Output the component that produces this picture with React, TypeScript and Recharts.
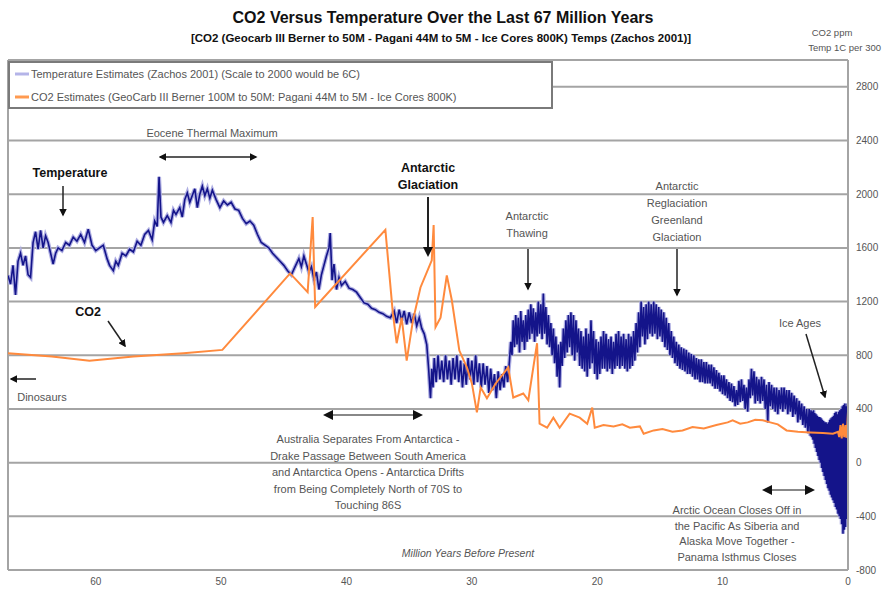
import { LineChart, Line, XAxis, YAxis, CartesianGrid, ReferenceLine } from "recharts";

// [million years before present, temperature scaled to ppm axis (1C = 300)]
const tempPaleocene: [number, number][] = [
  [67.0, 1395], [66.8, 1330], [66.6, 1470], [66.4, 1250], [66.2, 1500], [66.0, 1560], [65.8, 1470],
  [65.6, 1540], [65.4, 1400], [65.2, 1380], [65.0, 1640], [64.8, 1720], [64.6, 1590], [64.4, 1730],
  [64.2, 1600], [64.0, 1690], [63.8, 1640], [63.6, 1560], [63.4, 1480], [63.2, 1560], [63.0, 1600],
  [62.7, 1580], [62.4, 1640], [62.1, 1620], [61.8, 1680], [61.5, 1650], [61.2, 1700], [60.9, 1640],
  [60.6, 1740], [60.3, 1620], [60.0, 1580], [59.7, 1600], [59.4, 1620], [59.1, 1520], [58.9, 1470],
  [58.6, 1430], [58.4, 1500], [58.2, 1470], [57.9, 1560], [57.6, 1540], [57.3, 1590], [57.0, 1570],
  [56.7, 1650], [56.4, 1620], [56.1, 1700],
];

const tempEocene: [number, number][] = [
  [55.8, 1730], [55.5, 1660], [55.3, 1800], [55.1, 1760], [54.95, 2130], [54.8, 1830], [54.6, 1790],
  [54.3, 1840], [54.0, 1790], [53.8, 1880], [53.6, 1850], [53.3, 1900], [53.1, 1830], [52.9, 1960],
  [52.7, 2010], [52.5, 1940], [52.3, 1990], [52.1, 2040], [51.9, 1900], [51.7, 2000], [51.5, 2060],
  [51.3, 1990], [51.1, 2040], [50.9, 1970], [50.7, 2030], [50.4, 1960], [50.1, 1900], [49.8, 1950],
  [49.5, 1920], [49.2, 1940], [48.9, 1890], [48.6, 1880], [48.3, 1820], [48.0, 1780], [47.7, 1800],
  [47.4, 1770], [47.1, 1700], [46.8, 1640], [46.5, 1620], [46.2, 1600], [45.9, 1560], [45.6, 1530],
  [45.3, 1500], [45.0, 1470], [44.7, 1430], [44.4, 1400], [44.1, 1460], [43.8, 1520], [43.6, 1460],
  [43.4, 1540], [43.2, 1480], [43.0, 1420], [42.8, 1460], [42.6, 1370], [42.4, 1420], [42.2, 1290],
  [42.0, 1400], [41.8, 1470], [41.6, 1540], [41.4, 1600], [41.3, 1710], [41.15, 1360], [41.0, 1480],
  [40.8, 1290], [40.6, 1380], [40.4, 1320], [40.1, 1350], [39.8, 1300], [39.5, 1290], [39.2, 1270],
  [38.9, 1230], [38.6, 1190], [38.3, 1180], [38.0, 1150], [37.7, 1140], [37.4, 1120], [37.1, 1110],
  [36.8, 1090], [36.5, 1080], [36.2, 1130], [36.0, 1040], [35.8, 1140], [35.6, 1060], [35.4, 1130],
  [35.2, 1030], [35.0, 1120], [34.8, 1040], [34.6, 1110], [34.4, 1020], [34.2, 1080], [34.0, 1000],
];

const tempOligocene: [number, number][] = [
  [33.8, 960], [33.6, 880], [33.45, 700], [33.3, 480], [33.2, 700], [33.1, 560], [33.0, 780],
  [32.85, 600], [32.7, 800], [32.55, 620], [32.4, 760], [32.25, 600], [32.1, 800], [31.95, 620],
  [31.8, 760], [31.65, 580], [31.5, 780], [31.35, 620], [31.2, 800], [31.05, 600], [30.9, 760],
  [30.75, 560], [30.6, 740], [30.45, 580], [30.3, 780], [30.15, 620], [30.0, 760], [29.85, 580],
  [29.7, 800], [29.55, 600], [29.4, 740], [29.25, 560], [29.1, 740], [28.95, 580], [28.8, 720],
  [28.65, 520], [28.5, 700], [28.35, 540], [28.2, 660], [28.05, 480], [27.9, 680], [27.75, 540],
  [27.6, 660], [27.45, 560], [27.3, 720], [27.15, 600], [27.0, 760], [26.9, 900], [26.8, 800],
  [26.7, 1060], [26.6, 860], [26.5, 1100], [26.4, 880], [26.3, 1080], [26.2, 820], [26.1, 1130],
  [26.0, 900], [25.9, 1060], [25.8, 840], [25.7, 1100], [25.6, 900], [25.5, 1140], [25.4, 920],
  [25.3, 1180], [25.2, 960], [25.1, 1150], [25.0, 900], [24.9, 1120], [24.8, 940], [24.7, 1200],
  [24.6, 960], [24.5, 1180], [24.4, 920], [24.3, 1260], [24.2, 960], [24.1, 1160], [24.0, 880],
  [23.9, 1100], [23.8, 860], [23.7, 1040], [23.6, 800], [23.5, 1000], [23.4, 740], [23.3, 940],
  [23.2, 640],
];

const tempMiocene: [number, number][] = [
  [23.1, 880], [23.0, 560], [22.9, 900], [22.8, 720], [22.7, 1000], [22.6, 780], [22.5, 1060],
  [22.4, 820], [22.3, 1100], [22.2, 860], [22.1, 1120], [22.0, 800], [21.9, 1100], [21.8, 760],
  [21.7, 1060], [21.6, 820], [21.5, 1000], [21.4, 720], [21.3, 980], [21.2, 700], [21.1, 940],
  [21.0, 680], [20.9, 1000], [20.8, 640], [20.7, 960], [20.6, 700], [20.5, 1060], [20.4, 740],
  [20.3, 980], [20.2, 660], [20.1, 920], [20.0, 620], [19.9, 900], [19.8, 660], [19.7, 940],
  [19.6, 700], [19.5, 980], [19.4, 700], [19.3, 960], [19.2, 680], [19.1, 920], [19.0, 700],
  [18.9, 940], [18.8, 660], [18.7, 900], [18.6, 700], [18.5, 960], [18.4, 720], [18.3, 980],
  [18.2, 700], [18.1, 940], [18.0, 720], [17.9, 960], [17.8, 700], [17.7, 920], [17.6, 680],
  [17.5, 960], [17.4, 700], [17.3, 940], [17.2, 720], [17.1, 980], [17.0, 760], [16.9, 1040],
  [16.8, 820], [16.7, 1120], [16.6, 860], [16.5, 1200], [16.4, 940], [16.3, 1160], [16.2, 880],
  [16.1, 1180], [16.0, 920], [15.9, 1200], [15.8, 960], [15.7, 1180], [15.6, 940], [15.5, 1200],
  [15.4, 960], [15.3, 1180], [15.2, 920], [15.1, 1160], [15.0, 940], [14.9, 1140], [14.8, 900],
  [14.7, 1120], [14.6, 860], [14.5, 1080], [14.4, 840], [14.3, 1040], [14.2, 800], [14.1, 980],
  [14.0, 780], [13.9, 940], [13.8, 740], [13.7, 900], [13.6, 720], [13.5, 880], [13.4, 700],
  [13.3, 860], [13.2, 690], [13.1, 850], [13.0, 680], [12.9, 840], [12.8, 660], [12.7, 820],
  [12.6, 660], [12.5, 810], [12.4, 640], [12.3, 800], [12.2, 620], [12.1, 780], [12.0, 620],
  [11.9, 770], [11.8, 600], [11.7, 770], [11.6, 600], [11.5, 750], [11.4, 590], [11.3, 750],
  [11.2, 590], [11.1, 730], [11.0, 590], [10.9, 730], [10.8, 570], [10.7, 710], [10.6, 550],
  [10.5, 690], [10.4, 550], [10.3, 670], [10.2, 530], [10.1, 650], [10.0, 510], [9.9, 650],
  [9.8, 500], [9.7, 620], [9.6, 480], [9.5, 600], [9.4, 460], [9.3, 590], [9.2, 450],
  [9.1, 570], [9.0, 420], [8.9, 540], [8.8, 430], [8.7, 610], [8.6, 450], [8.5, 620],
  [8.4, 460], [8.3, 580], [8.2, 400], [8.1, 560], [8.0, 380], [7.9, 620], [7.8, 480],
  [7.7, 700], [7.6, 500], [7.5, 680], [7.4, 440], [7.3, 640], [7.2, 460], [7.1, 620],
  [7.0, 440], [6.9, 640], [6.8, 460], [6.7, 620], [6.6, 400], [6.5, 580], [6.4, 300],
  [6.3, 600], [6.2, 420], [6.1, 580], [6.0, 400], [5.9, 560], [5.8, 380], [5.7, 560],
  [5.6, 360], [5.5, 540],
];

const tempPliocene: [number, number][] = [
  [5.4, 400], [5.3, 560], [5.2, 380], [5.1, 560], [5.0, 400], [4.9, 540], [4.8, 360],
  [4.7, 540], [4.6, 380], [4.5, 520], [4.4, 340], [4.3, 500], [4.2, 360], [4.1, 480],
  [4.0, 300], [3.9, 460], [3.8, 320], [3.7, 440], [3.6, 280], [3.5, 420], [3.4, 260],
  [3.3, 400], [3.2, 220], [3.1, 400], [3.0, 200], [2.95, 390], [2.9, 190], [2.85, 380],
  [2.8, 170], [2.75, 390], [2.7, 140], [2.65, 370], [2.6, 110], [2.55, 360], [2.5, 80],
  [2.45, 350], [2.4, 50], [2.35, 340], [2.3, 20], [2.25, 340], [2.2, 0], [2.15, 330],
  [2.1, -40], [2.05, 320], [2.0, -70], [1.95, 310], [1.9, -100], [1.85, 300], [1.8, -130],
  [1.75, 300], [1.7, -160], [1.65, 290], [1.6, -190], [1.55, 300], [1.5, -210], [1.45, 320],
  [1.4, -240], [1.35, 330], [1.3, -260], [1.25, 340], [1.2, -280], [1.15, 350], [1.1, -300],
  [1.05, 370], [1.0, -330], [0.95, 380], [0.9, -350], [0.85, 360], [0.8, -380], [0.75, 380],
  [0.7, -400], [0.65, 390], [0.6, -420], [0.55, 400], [0.5, -460], [0.45, 420], [0.4, -530],
  [0.35, 430], [0.3, -500], [0.25, 440], [0.2, -480], [0.15, 420], [0.1, -420], [0.05, 440],
  [0.0, 300],
];

// [million years before present, CO2 ppm]
const co2GeoCarb: [number, number][] = [
  [67.0, 815], [63.5, 790], [60.5, 760], [57.0, 790], [53.0, 815], [49.9, 840],
];

const co2Pagani: [number, number][] = [
  [44.5, 1410], [43.1, 1270], [42.7, 1830], [42.5, 1160], [36.9, 1735], [36.3, 1110], [36.0, 890],
  [35.6, 1080], [35.2, 760], [34.7, 1060], [34.1, 1305], [33.2, 1507], [33.05, 1770], [32.9, 1010],
  [32.5, 1080], [32.0, 1395], [31.6, 1210], [31.0, 835], [30.4, 710], [30.0, 590], [29.6, 375],
  [29.3, 560], [28.8, 480], [28.1, 590], [27.1, 710], [26.7, 485], [25.9, 515], [25.5, 465],
  [25.1, 710], [24.8, 890], [24.6, 290], [24.0, 260], [23.5, 335], [23.0, 260], [22.2, 365],
  [21.4, 335], [20.8, 290], [20.4, 410], [20.2, 260], [19.5, 280], [18.7, 270], [18.0, 285],
  [17.4, 260], [16.6, 270], [16.3, 215], [15.5, 240], [14.8, 250], [14.0, 230], [13.2, 240],
  [12.4, 265], [11.5, 255], [10.5, 280], [9.6, 300], [9.2, 315], [8.6, 290], [8.0, 300],
  [7.4, 320], [6.8, 315], [6.2, 300], [5.6, 285], [4.9, 240], [4.0, 230], [3.0, 225],
  [2.0, 220], [1.2, 215],
];

const co2IceCores: [number, number][] = [
  [0.8, 230], [0.7, 190], [0.6, 280], [0.5, 180], [0.4, 290], [0.3, 190], [0.2, 280],
  [0.12, 185], [0.05, 290], [0.0, 380],
];

const xTicks = [0, 10, 20, 30, 40, 50, 60];
const yTicks = [-800, -400, 0, 400, 800, 1200, 1600, 2000, 2400, 2800];

const tempData = [...tempPaleocene, ...tempEocene, ...tempOligocene, ...tempMiocene, ...tempPliocene].map(
  ([age, temp]) => ({ age, temp })
);
const co2Data = [...co2GeoCarb, ...co2Pagani, ...co2IceCores].map(([age, co2]) => ({ age, co2 }));

const GRID = "#a4a4a4";
const NOTE = "#555";
const FONT = "'Liberation Sans', Arial, sans-serif";

function Overlay() {
  const note = { fontSize: 11, fill: NOTE } as const;
  const bold = { fontSize: 12.5, fill: "#111", fontWeight: 700 } as const;
  return (
    <svg width={882} height={595} style={{ position: "absolute", left: 0, top: 0, pointerEvents: "none" }} fontFamily={FONT}>
      <defs>
        <marker id="head" viewBox="0 0 10 10" refX="8" refY="5" markerWidth="5" markerHeight="5" orient="auto-start-reverse">
          <path d="M0,0 L10,5 L0,10 z" fill="#111" />
        </marker>
      </defs>

      <text x={443} y={23} textAnchor="middle" fontSize={16} fontWeight={700} fill="#111">
        CO2 Versus Temperature Over the Last 67 Million Years
      </text>
      <text x={441} y={42} textAnchor="middle" fontSize={11.5} fontWeight={700} fill="#111">
        [CO2 (Geocarb III Berner to 50M - Pagani 44M to 5M - Ice Cores 800K) Temps (Zachos 2001)]
      </text>
      <text x={832} y={36} textAnchor="middle" fontSize={9.5} fill={NOTE}>CO2 ppm</text>
      <text x={881} y={51} textAnchor="end" fontSize={9.5} fill={NOTE}>Temp 1C per 300</text>

      {/* legend */}
      <rect x={9} y={62} width={543} height={46} fill="#fff" stroke="#7a7a7a" strokeWidth={2} />
      <line x1={15} y1={74} x2={29} y2={74} stroke="#b4b4e8" strokeWidth={3} />
      <text x={31} y={78} fontSize={11} fill={NOTE}>Temperature Estimates (Zachos 2001) (Scale to 2000 would be 6C)</text>
      <line x1={15} y1={97} x2={29} y2={97} stroke="#ff9a50" strokeWidth={3} />
      <text x={31} y={101} fontSize={11} fill={NOTE}>
        CO2 Estimates (GeoCarb III Berner 100M to 50M: Pagani 44M to 5M - Ice Cores 800K)
      </text>

      {/* Eocene */}
      <text x={212} y={137} textAnchor="middle" {...note}>Eocene Thermal Maximum</text>
      <line x1={160} y1={157} x2={256} y2={157} stroke="#222" strokeWidth={1.5} markerStart="url(#head)" markerEnd="url(#head)" />

      <text x={70} y={177} textAnchor="middle" {...bold}>Temperature</text>
      <line x1={63} y1={186} x2={63} y2={215} stroke="#222" strokeWidth={1.5} markerEnd="url(#head)" />

      <text x={88} y={316} textAnchor="middle" {...bold}>CO2</text>
      <line x1={108} y1={321} x2={125} y2={346} stroke="#222" strokeWidth={1.5} markerEnd="url(#head)" />

      <line x1={36} y1={379} x2={11} y2={379} stroke="#222" strokeWidth={1.5} markerEnd="url(#head)" />
      <text x={42} y={401} textAnchor="middle" {...note}>Dinosaurs</text>

      <text x={428} y={172} textAnchor="middle" {...bold}>Antarctic</text>
      <text x={428} y={189} textAnchor="middle" {...bold}>Glaciation</text>
      <line x1={428} y1={197} x2={428} y2={255} stroke="#222" strokeWidth={2} markerEnd="url(#head)" />

      <text x={527} y={220} textAnchor="middle" {...note}>Antarctic</text>
      <text x={527} y={237} textAnchor="middle" {...note}>Thawing</text>
      <line x1={528} y1={249} x2={528} y2={289} stroke="#222" strokeWidth={1.5} markerEnd="url(#head)" />

      <text x={677} y={190} textAnchor="middle" {...note}>Antarctic</text>
      <text x={677} y={207} textAnchor="middle" {...note}>Reglaciation</text>
      <text x={677} y={224} textAnchor="middle" {...note}>Greenland</text>
      <text x={677} y={241} textAnchor="middle" {...note}>Glaciation</text>
      <line x1={677} y1={249} x2={677} y2={295} stroke="#222" strokeWidth={1.5} markerEnd="url(#head)" />

      <text x={800} y={327} textAnchor="middle" {...note}>Ice Ages</text>
      <line x1={806} y1={334} x2={825} y2={397} stroke="#222" strokeWidth={1.5} markerEnd="url(#head)" />

      {/* Drake Passage */}
      <line x1={325} y1={415} x2={421} y2={415} stroke="#888" strokeWidth={2} markerStart="url(#head)" markerEnd="url(#head)" />
      {[
        "Australia Separates From Antarctica -",
        "Drake Passage Between South America",
        "and Antarctica Opens - Antarctica Drifts",
        "from Being Completely North of 70S to",
        "Touching 86S",
      ].map((t, i) => (
        <text key={t} x={368} y={443 + i * 16.5} textAnchor="middle" {...note}>{t}</text>
      ))}

      {/* Panama */}
      <line x1={764} y1={490} x2={813} y2={490} stroke="#888" strokeWidth={2} markerStart="url(#head)" markerEnd="url(#head)" />
      {[
        "Arctic Ocean Closes Off in",
        "the Pacific As Siberia and",
        "Alaska Move Together -",
        "Panama Isthmus Closes",
      ].map((t, i) => (
        <text key={t} x={737} y={514 + i * 15.5} textAnchor="middle" {...note}>{t}</text>
      ))}

      <text x={468} y={557} textAnchor="middle" fontSize={10.5} fontStyle="italic" fill={NOTE}>
        Million Years Before Present
      </text>
    </svg>
  );
}

export default function App() {
  return (
    <div style={{ position: "absolute", left: 0, top: 0, width: 882, height: 595, background: "#fff", fontFamily: FONT }}>
      <LineChart width={882} height={595} margin={{ top: 60, right: 0, bottom: 0, left: 8 }}>
        <CartesianGrid vertical={false} stroke={GRID} strokeWidth={2} />
        <XAxis
          type="number"
          dataKey="age"
          domain={[0, 67]}
          reversed
          ticks={xTicks}
          allowDataOverflow
          tickLine={false}
          axisLine={{ stroke: GRID, strokeWidth: 2 }}
          tick={{ fontSize: 10, fill: NOTE }}
          height={25}
        />
        <YAxis
          orientation="right"
          type="number"
          domain={[-800, 3000]}
          ticks={yTicks}
          allowDataOverflow
          tickLine={false}
          axisLine={{ stroke: GRID, strokeWidth: 2 }}
          tick={{ fontSize: 10, fill: NOTE, textAnchor: "start" }}
          width={34}
        />
        <ReferenceLine x={67} stroke={GRID} strokeWidth={2} />
        <ReferenceLine y={3000} stroke={GRID} strokeWidth={2} />
        <Line data={tempData} dataKey="temp" type="linear" stroke="#aeaee2" strokeWidth={4} dot={false} isAnimationActive={false} />
        <Line data={tempData} dataKey="temp" type="linear" stroke="#14148a" strokeWidth={1.6} dot={false} isAnimationActive={false} />
        <Line data={co2Data} dataKey="co2" type="linear" stroke="#ff8a3d" strokeWidth={2} dot={false} isAnimationActive={false} />
      </LineChart>
      <Overlay />
    </div>
  );
}
